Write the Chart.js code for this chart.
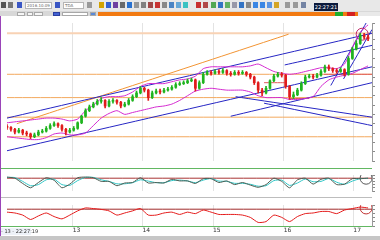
<!DOCTYPE html>
<html>
<head>
<meta charset="utf-8">
<title>Grafico</title>
<script src="https://cdn.jsdelivr.net/npm/chart.js@4.4.1/dist/chart.umd.min.js"></script>
<style>
  html, body { margin: 0; padding: 0; }
  body { width: 380px; height: 240px; overflow: hidden; position: relative; background: #fff; font-family: "DejaVu Sans", sans-serif; }
  canvas { position: absolute; left: 0; }
  .caja { position: absolute; box-sizing: border-box; }
  .ico { position: absolute; top: 2px; width: 5px; height: 6px; }
  .txt { position: absolute; top: 2px; height: 7px; background: #fff; border: 1px solid #b5b5b5; font-size: 4px; line-height: 5px; color: #666; padding-left: 1px; overflow: hidden; white-space: nowrap; box-sizing: border-box; }
  .tab { position: absolute; top: 12px; height: 4px; background: #f6f6f6; border: 1px solid #a8a8a8; box-sizing: border-box; }
</style>
</head>
<body>

<!-- barra de herramientas -->
<div class="caja" style="left:0;top:0;width:380px;height:11px;background:#e8e8e8;"></div>
<div class="ico" style="left:1px;background:#555;"></div>
<div class="ico" style="left:8px;background:#777;"></div>
<div class="ico" style="left:17px;background:#3a56c4;"></div>
<div class="txt" style="left:25px;width:27px;">2016.10.09 12</div>
<div class="ico" style="left:55px;background:#3a56c4;"></div>
<div class="txt" style="left:63px;width:21px;">TDA</div>
<div class="ico" style="left:87px;background:#9a9a9a;"></div>
<div class="ico" style="left:99px;background:#d2a200;"></div>
<div class="ico" style="left:106px;background:#3462d0;"></div>
<div class="ico" style="left:113px;background:#7040a0;"></div>
<div class="ico" style="left:120px;background:#6a6a6a;"></div>
<div class="ico" style="left:127px;background:#2a72d0;"></div>
<div class="ico" style="left:134px;background:#989898;"></div>
<div class="ico" style="left:141px;background:#808080;"></div>
<div class="ico" style="left:148px;background:#a04848;"></div>
<div class="ico" style="left:155px;background:#c83434;"></div>
<div class="ico" style="left:162px;background:#888;"></div>
<div class="ico" style="left:169px;background:#4a84c4;"></div>
<div class="ico" style="left:176px;background:#66a8d8;"></div>
<div class="ico" style="left:183px;background:#3cc2c2;"></div>
<div class="ico" style="left:196px;background:#c83030;"></div>
<div class="ico" style="left:203px;background:#b04848;"></div>
<div class="ico" style="left:211px;background:#52a852;"></div>
<div class="ico" style="left:218px;background:#3474c4;"></div>
<div class="ico" style="left:225px;background:#62b262;"></div>
<div class="ico" style="left:232px;background:#9898a8;"></div>
<div class="ico" style="left:239px;background:#3474c4;"></div>
<div class="ico" style="left:246px;background:#888;"></div>
<div class="ico" style="left:253px;background:#3a86e4;"></div>
<div class="ico" style="left:260px;background:#3a86e4;"></div>
<div class="ico" style="left:267px;background:#5a94e4;"></div>
<div class="ico" style="left:274px;background:#d4a424;"></div>
<div class="ico" style="left:285px;background:#9a9a9a;"></div>
<div class="ico" style="left:293px;background:#9a9a9a;"></div>
<div class="ico" style="left:301px;background:#7484a4;"></div>
<div class="caja" style="left:314px;top:3px;width:24px;height:8px;background:#0c1a3c;color:#fff;font-size:5px;line-height:8px;text-align:center;">22:27:21</div>

<!-- pestanas -->
<div class="caja" style="left:0;top:11px;width:380px;height:5px;background:#d8d8d8;"></div>
<div class="tab" style="left:17px;width:8px;"></div>
<div class="tab" style="left:27px;width:6px;"></div>
<div class="tab" style="left:34px;width:9px;"></div>
<div class="tab" style="left:53px;width:7px;background:#4262d2;border-color:#2a3ea0;"></div>
<div class="tab" style="left:62px;width:26px;background:#fff;"></div>
<div class="tab" style="left:90px;width:6px;background:#5a8ad8;"></div>
<div class="caja" style="left:98px;top:12px;width:282px;height:4px;background:#f27a12;"></div>
<div class="caja" style="left:335px;top:12px;width:8px;height:4px;background:#1fae2a;"></div>
<div class="caja" style="left:347px;top:12px;width:8px;height:4px;background:#d42020;"></div>
<div class="caja" style="left:358px;top:12px;width:22px;height:4px;background:#e9e9e9;"></div>

<!-- paneles -->
<canvas id="precioChart" width="420" height="152" style="top:16px;"></canvas>
<canvas id="kChart" width="420" height="30" style="top:168px;"></canvas>
<canvas id="rojoChart" width="420" height="37" style="top:198px;"></canvas>

<div class="caja" style="left:0;top:168px;width:372px;height:1px;background:#62b862;"></div>
<div class="caja" style="left:0;top:197px;width:372px;height:1px;background:#bdbdbd;"></div>
<div class="caja" style="left:0;top:226px;width:372px;height:1px;background:#62b862;"></div>
<div class="caja" style="left:0;top:16px;width:1px;height:220px;background:#9a44b8;"></div>
<div class="caja" style="left:1px;top:228px;width:30px;height:7px;font-size:5px;line-height:7px;color:#333;background:#eef2f8;white-space:nowrap;">- 13 - 22:27:19</div>
<div class="caja" style="left:0;top:236px;width:380px;height:4px;background:#c6c6c6;"></div>

<script>
// -------- DATOS --------
const velaApertura = [
    1370, 1360, 1340, 1310, 1330, 1300, 1290, 1260, 1280, 1310,
    1320, 1350, 1380, 1400, 1380, 1340, 1310, 1330, 1350, 1410,
    1480, 1540, 1580, 1610, 1640, 1650, 1590, 1640, 1650, 1630,
    1590, 1610, 1650, 1690, 1730, 1780, 1760, 1680, 1730, 1750,
    1740, 1760, 1770, 1790, 1820, 1830, 1840, 1860, 1870, 1780,
    1840, 1930, 1950, 1940, 1960, 1950, 1970, 1940, 1930, 1950,
    1940, 1950, 1930, 1900, 1840, 1760, 1730, 1780, 1860, 1910,
    1930, 1920, 1800, 1690, 1710, 1760, 1830, 1900, 1910, 1900,
    1920, 1960, 2010, 1990, 1970, 1960, 1980, 1930, 2100, 2200,
    2260, 2350, 2330
];
const velaCierre = [
    1360, 1340, 1310, 1330, 1300, 1290, 1260, 1280, 1310, 1320,
    1350, 1380, 1400, 1380, 1340, 1310, 1330, 1350, 1410, 1480,
    1540, 1580, 1610, 1640, 1650, 1590, 1640, 1650, 1630, 1590,
    1610, 1650, 1690, 1730, 1780, 1760, 1680, 1730, 1750, 1740,
    1760, 1770, 1790, 1820, 1830, 1840, 1860, 1870, 1780, 1840,
    1930, 1950, 1940, 1960, 1950, 1970, 1940, 1930, 1950, 1940,
    1950, 1930, 1900, 1840, 1760, 1730, 1780, 1860, 1910, 1930,
    1920, 1800, 1690, 1710, 1760, 1830, 1900, 1910, 1900, 1920,
    1960, 2010, 1990, 1970, 1960, 1980, 1930, 2100, 2200, 2260,
    2350, 2330, 2310
];
const velaMaximo = [
    1390, 1370, 1350, 1350, 1340, 1320, 1300, 1300, 1330, 1340,
    1370, 1400, 1420, 1410, 1390, 1350, 1350, 1370, 1420, 1490,
    1560, 1600, 1630, 1660, 1680, 1660, 1660, 1670, 1660, 1640,
    1630, 1670, 1710, 1750, 1800, 1790, 1770, 1750, 1770, 1770,
    1780, 1790, 1810, 1840, 1850, 1860, 1880, 1890, 1880, 1860,
    1950, 1970, 1970, 1980, 1980, 1990, 1980, 1960, 1970, 1970,
    1970, 1960, 1940, 1910, 1850, 1780, 1800, 1870, 1930, 1950,
    1950, 1930, 1810, 1740, 1780, 1850, 1920, 1930, 1930, 1940,
    1980, 2030, 2030, 2000, 1990, 2000, 1990, 2120, 2220, 2290,
    2370, 2370, 2350
];
const velaMinimo = [
    1340, 1320, 1290, 1300, 1280, 1270, 1240, 1250, 1270, 1300,
    1310, 1340, 1370, 1360, 1320, 1280, 1300, 1320, 1340, 1400,
    1470, 1530, 1570, 1600, 1620, 1570, 1580, 1620, 1610, 1570,
    1580, 1600, 1640, 1680, 1720, 1740, 1650, 1670, 1720, 1720,
    1730, 1750, 1760, 1780, 1810, 1820, 1830, 1850, 1750, 1770,
    1830, 1920, 1920, 1930, 1930, 1940, 1920, 1910, 1920, 1920,
    1930, 1910, 1880, 1820, 1730, 1700, 1720, 1770, 1850, 1900,
    1900, 1780, 1660, 1670, 1700, 1750, 1820, 1890, 1880, 1890,
    1910, 1950, 1970, 1950, 1940, 1950, 1910, 1920, 2090, 2190,
    2250, 2310, 2290
];

// bandas y osciladores: una muestra cada 2 velas
const PASO_MUESTRA = 2;
const bandaSuperior = [
    1410, 1420, 1430, 1440, 1450, 1460, 1460, 1450, 1430, 1450,
    1540, 1600, 1670, 1690, 1690, 1700, 1740, 1800, 1830, 1830,
    1830, 1850, 1870, 1880, 1910, 1990, 2010, 2010, 2010, 2010,
    2010, 2020, 2040, 2000, 1960, 1940, 1930, 1940, 1960, 1980,
    2000, 2000, 1990, 2040, 2220, 2380, 2460
];
const bandaInferior = [
    1260, 1250, 1240, 1230, 1230, 1250, 1290, 1300, 1280, 1280,
    1300, 1380, 1460, 1510, 1540, 1500, 1520, 1540, 1560, 1580,
    1590, 1610, 1650, 1700, 1750, 1770, 1780, 1770, 1760, 1760,
    1760, 1740, 1700, 1680, 1680, 1680, 1660, 1660, 1670, 1690,
    1800, 1870, 1900, 1920, 1940, 1980, 2020
];
const estocasticoK = [
    87, 80, 47, 20, 53, 83, 67, 20, 43, 83,
    87, 83, 60, 60, 33, 50, 53, 83, 50, 53,
    50, 73, 63, 63, 47, 77, 77, 53, 63, 40,
    53, 37, 23, 40, 80, 60, 20, 70, 80, 43,
    73, 80, 40, 43, 77, 77, 80
];
const estocasticoD = [
    85, 84, 60, 33, 40, 70, 74, 40, 35, 65,
    85, 85, 70, 60, 45, 45, 52, 70, 62, 52,
    52, 65, 68, 63, 52, 68, 78, 62, 60, 48,
    48, 42, 30, 33, 65, 68, 35, 50, 75, 58,
    60, 78, 55, 42, 62, 77, 79
];
const osciladorRojo = [
    66, 62, 52, 31, 48, 62, 45, 34, 52, 72,
    86, 83, 79, 72, 52, 62, 72, 83, 52, 52,
    62, 66, 55, 66, 59, 76, 66, 55, 55, 55,
    52, 41, 17, 21, 52, 41, 21, 45, 59, 62,
    69, 69, 59, 76, 83, 90, 86
];

const posicionesX = [16.75, 34.5, 52.5, 70.5, 88.25];
const etiquetasX = ["13", "14", "15", "16", "17"];

// lineas de tendencia: [x1, y1, x2, y2]
const lineasAzules = [
    [0, 1460, 93, 2370],
    [0, 1110, 93, 2010],
    [70.75, 2030, 93, 2240],
    [57, 1480, 93, 1840],
    [58.25, 1690, 93, 1470],
    [65.5, 1620, 93, 1380],
    [82.5, 1810, 91.5, 2480],
    [85.75, 1880, 93, 2410]
];
const lineaNaranja = [2.5, 1400, 71.75, 2360];
const segmentosRojos = [
    [65.5, 1840, 70.75, 1840],
    [71.75, 1670, 77, 1670],
    [80.75, 1930, 93, 1930]
];
const nivelesNaranja = [1930, 1680, 1470, 1260];
const nivelDurazno = 2370;
const NIVEL_OSC = 80;

const circuloPrecio = [90.5, 2360];
const circuloK = [91.5, 80];
const circuloRojo = [91.5, 86];

// -------- HELPERS --------
const X_MIN = 0;
const X_MAX = 93;

function serie(valores) {
    return valores.map((v, i) => ({ x: i * PASO_MUESTRA, y: v }));
}

function linea(datos, color, ancho) {
    return { type: "line", data: datos, borderColor: color, borderWidth: ancho || 1, pointRadius: 0, tension: 0.2 };
}

function segmento(p, color, ancho) {
    return linea([{ x: p[0], y: p[1] }, { x: p[2], y: p[3] }], color, ancho);
}

function horizontal(y, color, ancho) {
    return segmento([X_MIN, y, X_MAX, y], color, ancho);
}

function circulo(c, color) {
    return {
        type: "bubble",
        data: [{ x: c[0], y: c[1], r: 6 }],
        borderColor: color,
        backgroundColor: "rgba(0,0,0,0)",
        borderWidth: 1
    };
}

function escalaX(conEtiquetas) {
    return {
        type: "linear", min: X_MIN, max: X_MAX, offset: false,
        grid: { color: "#e3e3e3", drawTicks: false, offset: false },
        border: { display: false },
        ticks: {
            display: conEtiquetas, autoSkip: false, maxRotation: 0, align: "start",
            font: { size: 6, family: "DejaVu Sans" }, color: "#333", padding: 1,
            callback: (v, i) => etiquetasX[i]
        },
        afterBuildTicks: s => { s.ticks = posicionesX.map(v => ({ value: v })); },
        afterFit: s => { s.height = conEtiquetas ? 9 : 0; }
    };
}

function escalaY(min, max, paso) {
    return {
        type: "linear", position: "right", min: min, max: max, beginAtZero: false,
        grid: { drawOnChartArea: false, tickLength: 3, color: "#8a8a8a" },
        border: { color: "#9a9a9a" },
        ticks: { display: false, stepSize: paso },
        afterFit: s => { s.width = 48; }
    };
}

function opciones(escalaPrecio, conEtiquetas, padding) {
    return {
        responsive: false,
        animation: false,
        layout: { padding: padding },
        plugins: { legend: { display: false }, tooltip: { enabled: false } },
        scales: { x: escalaX(conEtiquetas), y: escalaPrecio }
    };
}

// -------- PRECIO --------
function graficoPrecio() {
    const colorVela = ctx => velaCierre[ctx.dataIndex] >= velaApertura[ctx.dataIndex] ? "#1fb41f" : "#e01c1c";

    const datasets = [
        {
            type: "bar",
            data: velaCierre.map((c, i) => ({ x: i, y: [velaApertura[i], c] })),
            backgroundColor: colorVela, barThickness: 2, minBarLength: 1, grouped: false, borderWidth: 0
        },
        {
            type: "bar",
            data: velaCierre.map((c, i) => ({ x: i, y: [velaMinimo[i], velaMaximo[i]] })),
            backgroundColor: colorVela, barThickness: 1, grouped: false, borderWidth: 0
        },
        circulo(circuloPrecio, "#c02a6a"),
        linea(serie(bandaSuperior), "#d42ad0"),
        linea(serie(bandaInferior), "#d42ad0"),
        ...lineasAzules.map(p => segmento(p, "#2626c4")),
        segmento(lineaNaranja, "#f29433"),
        ...segmentosRojos.map(p => segmento(p, "#e05a5a")),
        ...nivelesNaranja.map(v => horizontal(v, "#f3a95e")),
        horizontal(nivelDurazno, "#f8d2b4", 2)
    ];

    new Chart(document.getElementById("precioChart"), {
        type: "bar",
        data: { datasets: datasets },
        options: opciones(escalaY(1000, 2480, 100), false, { left: 1, top: 2, bottom: 2 })
    });
}

// -------- ESTOCASTICO --------
function graficoK() {
    new Chart(document.getElementById("kChart"), {
        type: "line",
        data: {
            datasets: [
                linea(serie(estocasticoK), "#4e5c52"),
                linea(serie(estocasticoD), "#2ec6c6"),
                circulo(circuloK, "#555"),
                horizontal(NIVEL_OSC, "#a83434")
            ]
        },
        options: opciones(escalaY(0, 100, 20), false, { left: 1 })
    });
}

// -------- OSCILADOR ROJO --------
function graficoRojo() {
    new Chart(document.getElementById("rojoChart"), {
        type: "line",
        data: {
            datasets: [
                linea(serie(osciladorRojo), "#e41a1a"),
                circulo(circuloRojo, "#c03030"),
                horizontal(NIVEL_OSC, "#a02a2a")
            ]
        },
        options: opciones(escalaY(0, 100, 20), true, { left: 1 })
    });
}

// -------- INIT --------
graficoPrecio();
graficoK();
graficoRojo();
</script>
</body>
</html>
